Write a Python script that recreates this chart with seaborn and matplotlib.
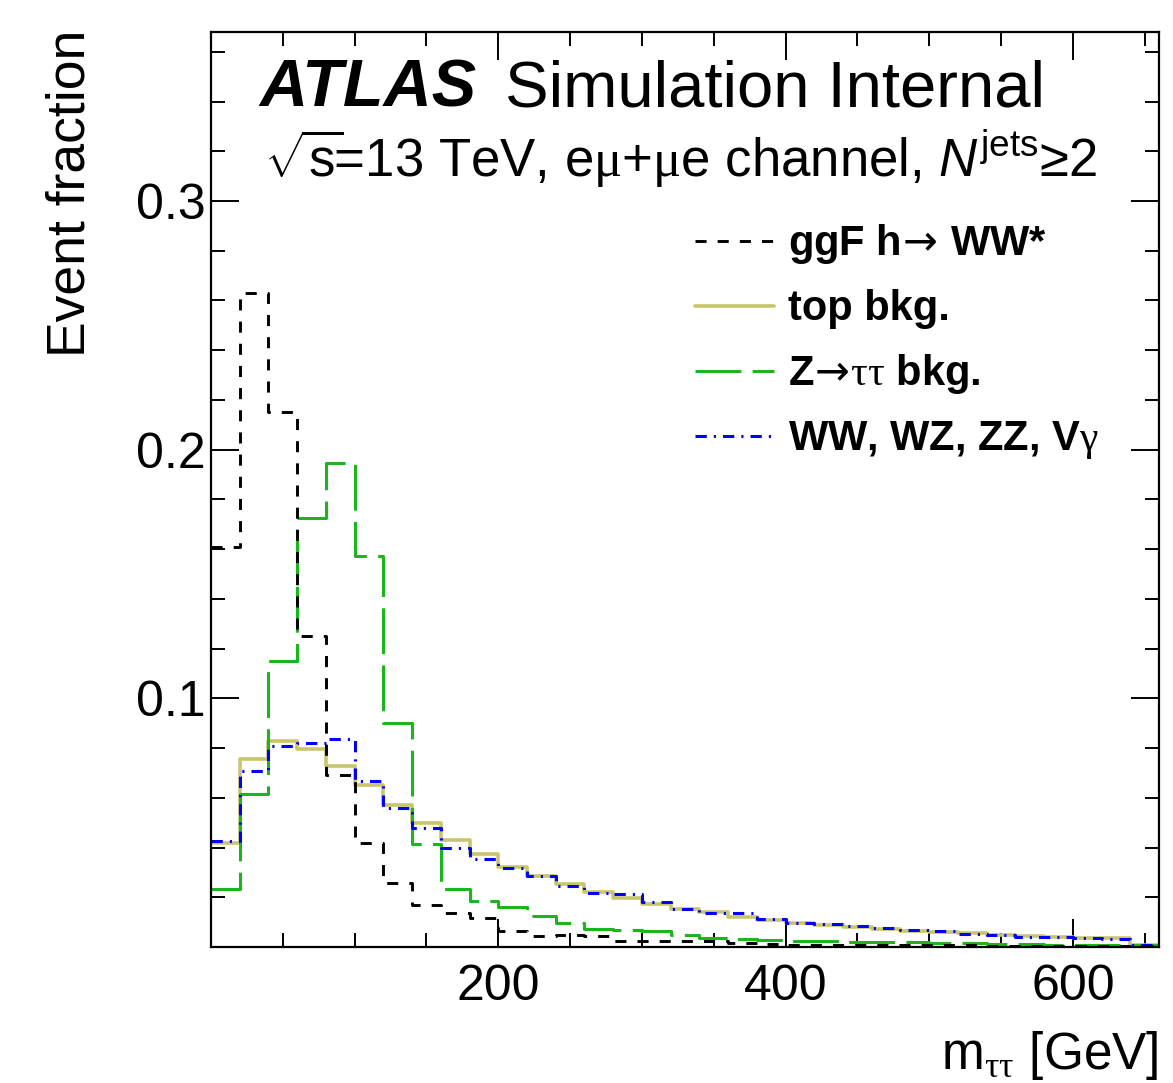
import numpy as np
import pandas as pd
import matplotlib
matplotlib.use("Agg")
import matplotlib.pyplot as plt
from matplotlib.ticker import MultipleLocator, FixedLocator
import seaborn as sns

# ---------------- data (event fractions per 20 GeV bin, 0-660 GeV) ----------------
bin_width = 20
bin_edges = np.arange(0, 661, bin_width)

ggf_hww = [0.161, 0.263, 0.215, 0.125, 0.069, 0.042, 0.0256, 0.0170, 0.0135, 0.0115,
           0.0064, 0.0043, 0.0047, 0.0043, 0.0023, 0.0023, 0.0025, 0.0023, 0.0015, 0.0011,
           0.0009, 0.0008, 0.0008, 0.0007, 0.0007, 0.0006, 0.0006, 0.0005, 0.0005, 0.0004,
           0.0004, 0.0004, 0.0003]
top_bkg = [0.0420, 0.0757, 0.0830, 0.0797, 0.0727, 0.0650, 0.0570, 0.0497, 0.0432, 0.0375,
           0.0323, 0.0287, 0.0252, 0.0222, 0.0198, 0.0173, 0.0153, 0.0140, 0.0122, 0.0109,
           0.0098, 0.0089, 0.0082, 0.0073, 0.0066, 0.0062, 0.0057, 0.0050, 0.0046, 0.0040,
           0.0038, 0.0037, 0.0008]
ztautau_bkg = [0.0232, 0.0617, 0.1150, 0.1725, 0.1948, 0.1573, 0.0900, 0.0416, 0.0232, 0.0185,
               0.0160, 0.0126, 0.0095, 0.0073, 0.0068, 0.0064, 0.0048, 0.0035, 0.0031, 0.0030,
               0.0024, 0.0024, 0.0022, 0.0022, 0.0018, 0.0016, 0.0014, 0.0012, 0.0010, 0.0009,
               0.0008, 0.0007, 0.0006]
diboson_bkg = [0.0425, 0.0706, 0.0808, 0.0820, 0.0835, 0.0666, 0.0557, 0.0479, 0.0399, 0.0353,
               0.0316, 0.0285, 0.0247, 0.0216, 0.0214, 0.0180, 0.0153, 0.0137, 0.0135, 0.0114,
               0.0098, 0.0092, 0.0084, 0.0077, 0.0067, 0.0066, 0.0051, 0.0048, 0.0042, 0.0040,
               0.0035, 0.0032, 0.0008]

labels = ["ggF h$\\!\\mathtt{\\rightarrow}\\!$ WW*", "top bkg.",
          "Z$\\!\\mathtt{\\rightarrow}\\!\\mathrm{\\tau\\tau}$ bkg.",
          "WW, WZ, ZZ, V$\\mathrm{\\gamma}$"]

x_ticks = [200, 400, 600]
y_ticks = [0.1, 0.2, 0.3]
y_tick_labels = ["0.1", "0.2", "0.3"]

# ---------------- style ----------------
sns.set_style("ticks")
plt.rcParams["font.family"] = ["Liberation Sans", "DejaVu Sans"]
plt.rcParams["mathtext.fontset"] = "custom"
plt.rcParams["mathtext.rm"] = "Liberation Serif"
plt.rcParams["mathtext.sf"] = "Liberation Sans"
plt.rcParams["mathtext.tt"] = "DejaVu Sans"
plt.rcParams["mathtext.it"] = "Liberation Sans:italic"
plt.rcParams["mathtext.bf"] = "Liberation Sans:bold"
plt.rcParams["axes.linewidth"] = 1.6
for k in ["text.color", "axes.labelcolor", "xtick.color", "ytick.color", "axes.edgecolor"]:
    plt.rcParams[k] = "black"

fig = plt.figure(figsize=(11.73, 10.83), dpi=100)
ax = fig.add_axes([0.1799, 0.1256, 0.8082, 0.8449])


def step_frame(values):
    # histogram outline: each bin's value held from its low edge to the next edge
    return pd.DataFrame({"m": bin_edges, "frac": list(values) + [values[-1]]})


series = {"ggf": ggf_hww, "top": top_bkg, "ztt": ztautau_bkg, "vv": diboson_bkg}
styles = {
    "top": dict(color="#c9c56a", linewidth=2.6, linestyle="-"),
    "ztt": dict(color="#1cb51c", linewidth=2.2, linestyle=(0, (15, 3.7))),
    "vv": dict(color="#0000ff", linewidth=2.2, linestyle=(0, (3.7, 2.3, 0.7, 2.3))),
    "ggf": dict(color="black", linewidth=2.1, linestyle=(0, (3.8, 3.8))),
}
order_labels = {"ggf": labels[0], "top": labels[1], "ztt": labels[2], "vv": labels[3]}
handles = {}
for key in ["top", "ztt", "vv", "ggf"]:
    n_before = len(ax.lines)
    sns.lineplot(data=step_frame(series[key]), x="m", y="frac", drawstyle="steps-post",
                 sort=False, estimator=None, ax=ax, label=order_labels[key], **styles[key])
    handles[key] = ax.lines[n_before]

ax.set_xlim(0, 660)
ax.set_ylim(0, 0.368)

ax.xaxis.set_major_locator(FixedLocator(x_ticks))
ax.xaxis.set_minor_locator(MultipleLocator(50))
ax.yaxis.set_major_locator(FixedLocator(y_ticks))
ax.set_yticklabels(y_tick_labels)
ax.yaxis.set_minor_locator(MultipleLocator(0.02))
ax.tick_params(which="both", direction="in", top=True, right=True, width=1.4,
               labelsize=36, colors="black")
ax.tick_params(which="major", length=20)
ax.tick_params(which="minor", length=10)
ax.tick_params(axis="y", pad=4)
ax.tick_params(axis="x", pad=12)

ax.set_xlabel(r"m$_{\mathrm{\tau\tau}}$ [GeV]", fontsize=37, loc="right")
ax.xaxis.set_label_coords(1.0, -0.09)
ax.set_ylabel("Event fraction", fontsize=38.5, loc="top")
ax.yaxis.set_label_coords(-0.122, 1.003)

ax.text(0.051, 0.918, "ATLAS", transform=ax.transAxes, fontsize=48,
        fontweight="bold", fontstyle="italic", va="baseline")
ax.text(0.310, 0.918, "Simulation Internal", transform=ax.transAxes, fontsize=47,
        va="baseline")
ax.text(0.056, 0.8415,
        "$\\sqrt{\\mathsf{s}}\\!$=13 TeV, e$\\mathrm{\\mu}$+$\\mathrm{\\mu}$e channel, $N^{\\mathsf{jets}}$\u22652",
        transform=ax.transAxes, fontsize=38, va="baseline")

leg = ax.legend([handles["ggf"], handles["top"], handles["ztt"], handles["vv"]], labels,
                loc="upper left", bbox_to_anchor=(0.4926, 0.81), frameon=False,
                prop={"size": 30, "weight": "bold"}, handlelength=1.9,
                handletextpad=0.35, labelspacing=0.55, borderaxespad=0)

fig.savefig("out.png", dpi=100)
